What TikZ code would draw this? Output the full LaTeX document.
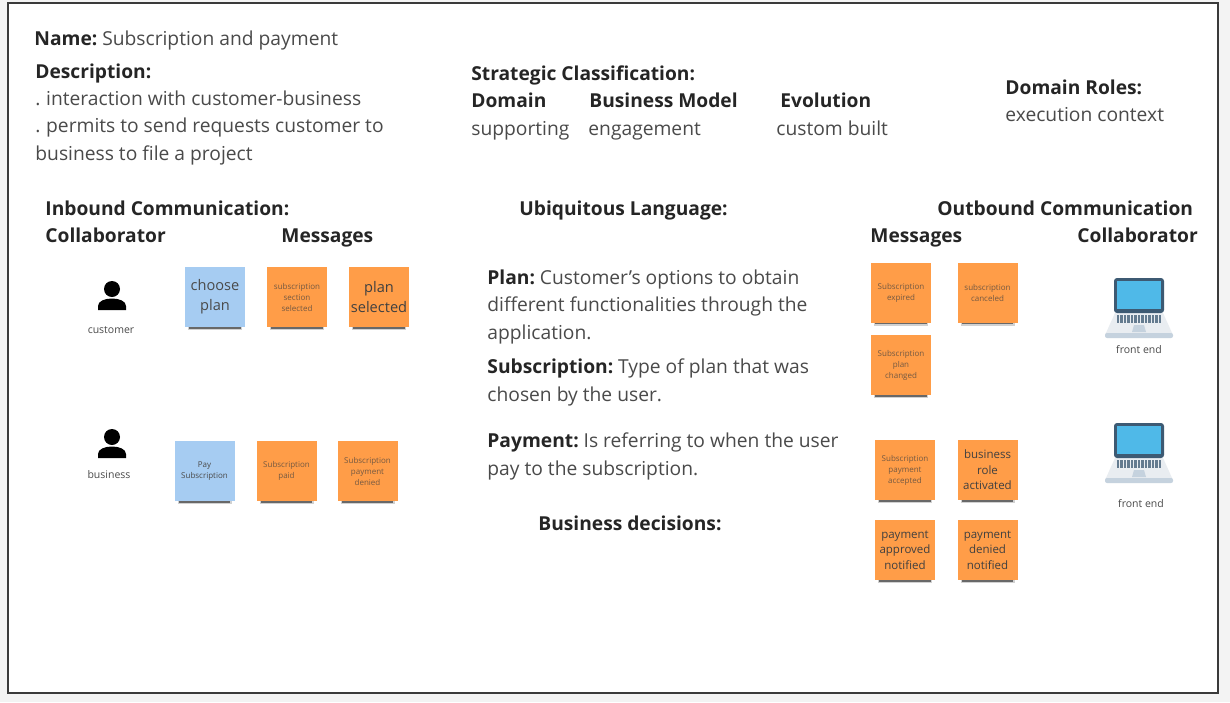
\documentclass[tikz,border=0pt]{standalone}
\usepackage{fontspec}
\setmainfont{Open Sans}
\usetikzlibrary{shadows}
\definecolor{pagebg}{HTML}{F3F3F3}
\definecolor{framecol}{HTML}{3A3A3A}
\definecolor{textcol}{HTML}{4A4A4A}
\definecolor{headcol}{HTML}{252525}
\definecolor{stickyblue}{HTML}{A6CCF2}
\definecolor{stickyorange}{HTML}{FF9D48}
\definecolor{screenblue}{HTML}{4FB9E8}
\definecolor{laptopdark}{HTML}{3D5A73}
\definecolor{laptopbase}{HTML}{E9EDF1}
\definecolor{laptoptrim}{HTML}{C5D2DE}
\newcommand{\lead}[1]{\textbf{\textcolor{headcol}{#1}}\kern-0.9pt{} }
\tikzset{
    head/.style={anchor=base west, inner sep=0pt, text=headcol, font=\fontsize{9.6}{13}\selectfont\bfseries},
    body/.style={anchor=base west, inner sep=0pt, text=textcol, align=left, font=\fontsize{9.62}{13.6}\selectfont},
    caption/.style={inner sep=0pt, text=textcol, font=\fontsize{5.25}{7}\selectfont},
    sticky/.style={minimum size=30pt, inner sep=0pt, align=center, text=#1,
        general shadow={fill=black, opacity=0.18, shadow yshift=-3.5pt, shadow scale=0.9},
        general shadow={fill=black, opacity=0.5, shadow yshift=-3.5pt, shadow scale=0.86}},
    bluenote/.style={sticky=textcol, fill=stickyblue},
    orangenote/.style={sticky=textcol!70!stickyorange!90!black, fill=stickyorange},
    tiny/.style={font=\fontsize{4}{5.5}\selectfont},
    small/.style={text=black!75, font=\fontsize{5.75}{7.7}\selectfont},
    big/.style={text=black!75, font=\fontsize{7.3}{10}\selectfont},
    person/.pic={
        \fill[black] (0,-7) circle (8);
        \fill[black] (-14,14) -- (-14,10) .. controls (-14,5) and (-7,2.5) .. (0,2.5)
            .. controls (7,2.5) and (14,5) .. (14,10) -- (14,14) -- cycle;
    },
    laptop/.pic={
        % base
        \fill[laptopbase] (-24,12) -- (24,12) -- (33.5,33) -- (-33.5,33) -- cycle;
        \fill[laptoptrim, rounded corners=1pt] (-34,32) rectangle (34,37);
        % screen
        \fill[laptopdark, rounded corners=1.5pt] (-25,-23) rectangle (25,12);
        \fill[screenblue] (-22,-20) rectangle (22,8);
        % keys
        \foreach \kx in {-21,-17.5,...,21}
            \fill[laptopdark!80] (\kx-1.3,14) rectangle (\kx+1.3,22);
        \fill[laptoptrim] (-5,24) -- (5,24) -- (7,31) -- (-7,31) -- cycle;
    }
}
\begin{document}
\begin{tikzpicture}[x=0.5pt, y=-0.5pt]
    % Page and frame
    \fill[pagebg] (0,0) rectangle (1230,702);
    \draw[framecol, line width=0.8pt, fill=white] (8,3) rectangle (1218,693);

    % Header
    \node[body] (name) at (34,45) {\lead{Name:}Subscription and payment};
    \node[head] (descTitle) at (35,78) {Description:};
    \node[body] (descText) at (35,160) {.\kern-0.5pt{} interaction with customer-business\\.\kern-0.5pt{} permits to send requests customer to\\business to file a project};
    \node[head] (stratTitle) at (471,80) {Strategic Classification:};
    \node[head] (domainTitle) at (471,107) {Domain};
    \node[head] (modelTitle) at (589,107) {Business Model};
    \node[head] (evoTitle) at (780,107) {Evolution};
    \node[body] (domainText) at (471,135) {supporting};
    \node[body] (modelText) at (588,135) {engagement};
    \node[body] (evoText) at (776,135) {custom built};
    \node[head] (rolesTitle) at (1005,94) {Domain Roles:};
    \node[body] (rolesText) at (1005,121) {execution context};

    % Section titles
    \node[head] (inTitle) at (45,215) {Inbound Communication:};
    \node[head] (inCollab) at (45,242) {Collaborator};
    \node[head] (inMsg) at (281,242) {Messages};
    \node[head] (ulTitle) at (519,215) {Ubiquitous Language:};
    \node[head] (outTitle) at (937,215) {Outbound Communication};
    \node[head] (outMsg) at (870,242) {Messages};
    \node[head] (outCollab) at (1077,242) {Collaborator};

    % Ubiquitous language
    \node[body] (planText) at (487,339) {\lead{Plan:}Customer's options to obtain\\different functionalities through the\\application.};
    \node[body] (subText) at (487,401) {\lead{Subscription:}Type of plan that was\\chosen by the user.};
    \node[body] (payText) at (487,475) {\lead{Payment:}Is referring to when the user\\pay to the subscription.};
    \node[head] (decTitle) at (538,530) {Business decisions:};

    % Inbound
    \pic at (112,296) {person};
    \node[caption] (customer) at (111,330) {customer};
    \node[bluenote, big, text=textcol] (choosePlan) at (215,297) {choose\\plan};
    \node[orangenote, tiny] (sectionSel) at (297,297) {subscription\\section\\selected};
    \node[orangenote, big] (planSel) at (379,297) {plan\\selected};
    \pic at (112,444) {person};
    \node[caption] (business) at (109,475) {business};
    \node[bluenote, tiny] (paySub) at (204.5,471) {Pay\\Subscription};
    \node[orangenote, tiny] (subPaid) at (286.5,471) {Subscription\\paid};
    \node[orangenote, tiny] (payDenied) at (367.5,471) {Subscription\\payment\\denied};

    % Outbound
    \node[orangenote, tiny] (subExpired) at (901,292.5) {Subscription\\expired};
    \node[orangenote, tiny] (subCanceled) at (987.5,292.5) {subscription\\canceled};
    \node[orangenote, tiny] (subChanged) at (901,365) {Subscription\\plan\\changed};
    \node[orangenote, tiny] (payAccepted) at (905,470) {Subscription\\payment\\accepted};
    \node[orangenote, small] (roleActive) at (987.5,470) {business\\role\\activated};
    \node[orangenote, small] (payApproved) at (905,550) {payment\\approved\\notified};
    \node[orangenote, small] (payDeniedN) at (987.5,550) {payment\\denied\\notified};
    \pic at (1139,301) {laptop};
    \node[caption] (frontA) at (1139,350) {front end};
    \pic at (1139,446) {laptop};
    \node[caption] (frontB) at (1141,504) {front end};
\end{tikzpicture}
\end{document}
